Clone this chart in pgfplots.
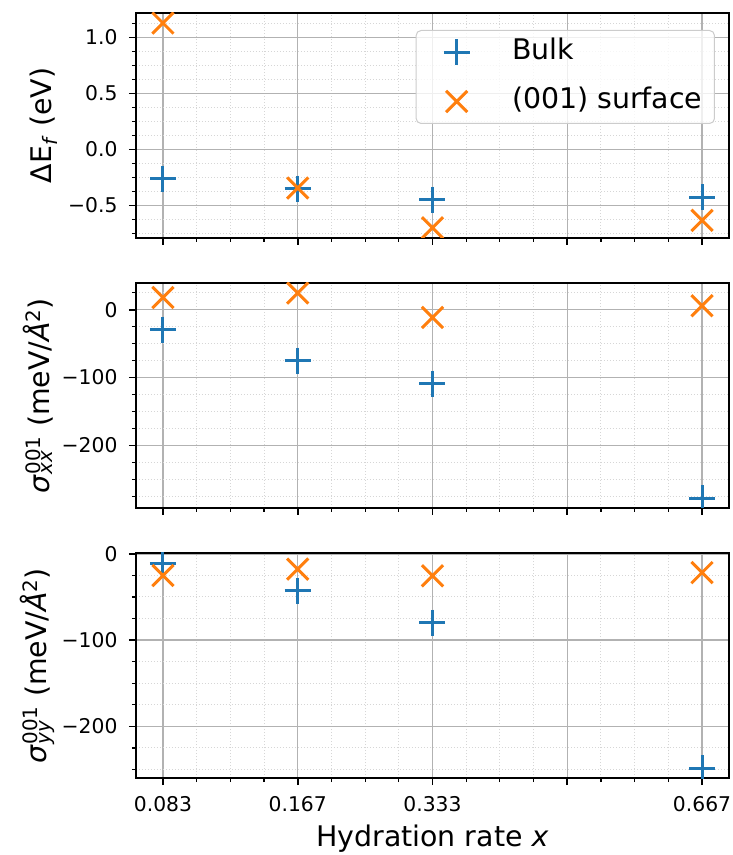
\documentclass[border=0pt]{standalone}
\usepackage{fontspec}
\setmainfont{DejaVu Sans}
\usepackage{pgfplots}
\pgfplotsset{compat=1.18}
\definecolor{tblue}{HTML}{1F77B4}
\definecolor{torange}{HTML}{FF7F0E}
\pgfplotsset{
 markleg/.style={legend image code/.code={\path[draw=none,fill=none] (0pt,0pt) -- (57pt,0pt); \draw[##1] plot coordinates {(28.5pt,0pt)};}},
 panel/.style={
  scale only axis, width=593pt, height=225pt,
  xmin=0.8, xmax=5.2,
  xtick={1,2,3,4,5},
  minor xtick={1.25,1.5,1.75,2.25,2.5,2.75,3.25,3.5,3.75,4.25,4.5,4.75},
  grid=both,
  clip marker paths=true,
  major grid style={line width=1.4pt, color=black!30},
  minor grid style={line width=1pt, color=black!16, dash pattern=on 1.2pt off 1.8pt},
  tick align=outside, tick pos=left,
  major tick length=7pt, minor tick length=4pt,
  major tick style={black, line width=1.6pt},
  minor tick style={black, line width=1.2pt},
  axis line style={line width=1.6pt},
  ticklabel style={font=\fontsize{20.3}{24}\selectfont},
  yticklabel style={xshift=-8pt},
  xticklabel style={yshift=-8pt},
  label style={font=\fontsize{28.4}{34}\selectfont},
  ylabel style={inner sep=0pt, anchor=south},
  xlabel style={at={(axis description cs:0.5,-0.3053)}, anchor=base, inner sep=0pt},
  /pgf/number format/assume math mode=true,
 },
 bulk/.style={only marks, mark=+, mark size=13pt, line width=3pt, color=tblue, markleg},
 surf/.style={only marks, mark=x, mark size=15pt, line width=3pt, color=torange, markleg},
}
\begin{document}
\begin{tikzpicture}
\path[use as bounding box] (-136pt,-77pt) rectangle (597pt,778pt);
% top panel
\begin{axis}[panel, at={(0pt,540pt)}, anchor=south west,
  ymin=-0.791, ymax=1.218,
  ytick={-0.5,0,0.5,1}, yticklabels={−0.5,0.0,0.5,1.0},
  minor ytick={-0.75,-0.625,-0.375,-0.25,-0.125,0.125,0.25,0.375,0.625,0.75,0.875,1.125},
  xticklabels={},
  ylabel={ΔE\textsubscript{\textit{f}} (eV)},
  ylabel style={at={(axis description cs:-0.1315,0.5)}},
  legend cell align=left,
  legend style={at={(1,1)}, anchor=north east, xshift=-14pt, yshift=-17pt,
    font=\fontsize{28.4}{34}\selectfont, draw=black!20, line width=1pt,
    fill=white, fill opacity=0.8, text opacity=1, rounded corners=5pt,
    inner xsep=12pt, inner ysep=7.5pt, row sep=20pt,
    nodes={inner sep=0pt, text height=22pt, text depth=7pt},
    /tikz/every odd column/.append style={column sep=27pt}},
]
\addplot[bulk] coordinates {(1,-0.262) (2,-0.35) (3,-0.449) (5,-0.428)};
\addlegendentry{Bulk}
\addplot[surf] coordinates {(1,1.128) (2,-0.345) (3,-0.70) (5,-0.634)};
\addlegendentry{(001) surface}
\end{axis}
% middle panel
\begin{axis}[panel, at={(0pt,270pt)}, anchor=south west,
  ymin=-292.3, ymax=39.4,
  ytick={-200,-100,0}, yticklabels={−200,−100,0},
  minor ytick={-275,-250,-225,-175,-150,-125,-75,-50,-25,25},
  xticklabels={},
  ylabel={\textit{σ}\rlap{\textsubscript{\textit{xx}}}\textsuperscript{001} (meV/\textit{Å}\textsuperscript{2})},
  ylabel style={at={(axis description cs:-0.140,0.5)}},
]
\addplot[bulk] coordinates {(1,-29.5) (2,-75.2) (3,-109) (5,-277.7)};
\addplot[surf] coordinates {(1,18) (2,24.6) (3,-11.3) (5,5.9)};
\end{axis}
% bottom panel
\begin{axis}[panel, at={(0pt,0pt)}, anchor=south west,
  ymin=-259.8, ymax=1.0,
  ytick={-200,-100,0}, yticklabels={−200,−100,0},
  minor ytick={-250,-225,-175,-150,-125,-75,-50,-25},
  xticklabels={0.083,0.167,0.333,,0.667},
  ylabel={\textit{σ}\rlap{\textsubscript{\textit{yy}}}\textsuperscript{001} (meV/\textit{Å}\textsuperscript{2})},
  ylabel style={at={(axis description cs:-0.1366,0.5)}},
  xlabel={Hydration rate \textit{x}},
]
\addplot[bulk] coordinates {(1,-10.8) (2,-42.5) (3,-79.6) (5,-248.5)};
\addplot[surf] coordinates {(1,-25.1) (2,-17.7) (3,-25.5) (5,-21.7)};
\end{axis}
\end{tikzpicture}
\end{document}
